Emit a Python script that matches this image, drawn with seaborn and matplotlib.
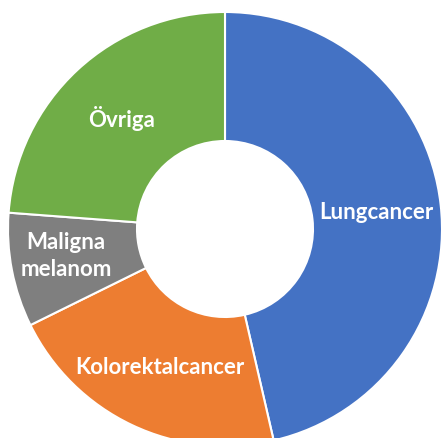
import matplotlib
matplotlib.use("Agg")
import matplotlib.pyplot as plt
import seaborn as sns

categories = ["Lungcancer", "Kolorektalcancer", "Maligna\nmelanom", "Övriga"]
shares = [46.4, 21.3, 8.5, 23.8]
colors = ["#4472C4", "#ED7D31", "#7F7F7F", "#70AD47"]

sns.set_theme(style="white")
plt.rcParams['font.family'] = ['Lato', 'DejaVu Sans']

fig = plt.figure(figsize=(4.41, 4.39), dpi=100)
ax = fig.add_axes([0, 0, 1, 1])

r_px = 217
cx, cy = 225, 230
hole = 88 / r_px

wedges, texts = ax.pie(
    shares,
    labels=categories,
    colors=colors,
    startangle=90,
    counterclock=False,
    labeldistance=(1 + hole) / 2,
    wedgeprops=dict(width=1 - hole, edgecolor="white", linewidth=1.5),
    textprops=dict(color="white", fontsize=16, fontweight="bold"),
)
for t in texts:
    t.set_ha("center")
    t.set_va("center")
    t.set_linespacing(1.35)

# Excel pushes the small slice's label a bit outward
x, y = texts[2].get_position()
texts[2].set_position((x - 9 / r_px, y + 3 / r_px))

ax.set_aspect("auto")
ax.set_xlim(-cx / r_px, (441 - cx) / r_px)
ax.set_ylim(-(439 - cy) / r_px, cy / r_px)
ax.axis("off")

fig.savefig("out.png", dpi=100)
